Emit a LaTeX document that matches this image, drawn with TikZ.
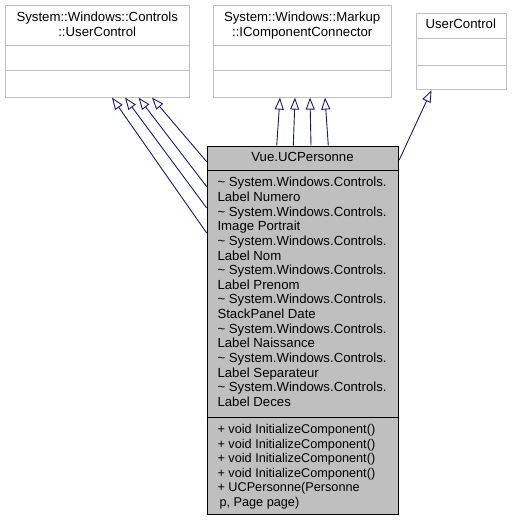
\documentclass[tikz,border=0pt]{standalone}
\usepackage{fontspec}
\setmainfont{Liberation Sans}
\usetikzlibrary{arrows.meta,calc}
\definecolor{edgeblue}{RGB}{25,25,112}
\definecolor{boxgray}{RGB}{191,191,191}
\definecolor{fillgray}{RGB}{191,191,191}
\begin{document}
\begin{tikzpicture}[x=1pt,y=-1pt,
  inh/.style={draw=edgeblue, line width=0.9pt, -{Triangle[open,length=12pt,width=9pt]}},
  txt/.style={inner sep=0pt, font=\fontsize{13.2}{14.6}\selectfont},
  mtxt/.style={inner sep=0pt, font=\fontsize{12.7}{14.6}\selectfont},
  extbox/.style={draw=boxgray, fill=white, line width=0.9pt, inner sep=0pt, anchor=north west},
  mainbox/.style={draw=black, fill=fillgray, line width=0.9pt, inner sep=0pt, anchor=north west}]
\useasboundingbox (0,0) rectangle (512,521);

% parent box 1
\node[extbox, minimum width=184.3pt, minimum height=91.4pt] (uc) at (5,5.3) {};
\draw[boxgray, line width=0.9pt] (5,45.7) -- (189.3,45.7) (5,70.7) -- (189.3,70.7);
\node[txt, anchor=base] (uct1) at (97.2,22) {System::Windows::Controls};
\node[txt, anchor=base] (uct2) at (97.2,37) {::UserControl};

% parent box 2
\node[extbox, minimum width=177.7pt, minimum height=91.4pt] (icc) at (213.3,5.3) {};
\draw[boxgray, line width=0.9pt] (213.3,45.7) -- (391,45.7) (213.3,70.7) -- (391,70.7);
\node[txt, anchor=base] (icct1) at (302.2,22) {System::Windows::Markup};
\node[txt, anchor=base] (icct2) at (302.2,37) {::IComponentConnector};

% parent box 3
\node[extbox, minimum width=90.3pt, minimum height=76pt] (ucs) at (415.7,13.3) {};
\draw[boxgray, line width=0.9pt] (415.7,38.3) -- (506,38.3) (415.7,65) -- (506,65);
\node[txt, anchor=base] (ucst) at (460.8,29) {UserControl};

% main class
\node[mainbox, minimum width=191.6pt, minimum height=368.6pt] (main) at (206.7,145.7) {};
\draw[black, line width=0.9pt] (206.7,170.7) -- (398.3,170.7) (206.7,417.3) -- (398.3,417.3);
\node[txt, anchor=base] (title) at (302.5,162) {Vue.UCPersonne};

\foreach \t [count=\i] in {%
  {\textasciitilde{} System.Windows.Controls.}, {Label Numero},
  {\textasciitilde{} System.Windows.Controls.}, {Image Portrait},
  {\textasciitilde{} System.Windows.Controls.}, {Label Nom},
  {\textasciitilde{} System.Windows.Controls.}, {Label Prenom},
  {\textasciitilde{} System.Windows.Controls.}, {StackPanel Date},
  {\textasciitilde{} System.Windows.Controls.}, {Label Naissance},
  {\textasciitilde{} System.Windows.Controls.}, {Label Separateur},
  {\textasciitilde{} System.Windows.Controls.}, {Label Deces}}
  \node[txt, anchor=base west] (attr\i) at (217.3,{187+14.62*(\i-1)}) {\t};

\foreach \t [count=\i] in {%
  {+ void InitializeComponent()}, {+ void InitializeComponent()},
  {+ void InitializeComponent()}, {+ void InitializeComponent()},
  {+ UCPersonne(Personne}, {\hspace{2pt}p, Page page)}}
  \node[mtxt, anchor=base west] (meth\i) at (217.3,{433.5+14.62*(\i-1)}) {\t};

% inheritance arrows to box 1
\draw[inh] ($(main.north west)+(0,87.3)$) -- ($(uc.south west)+(107,0)$);
\draw[inh] ($(main.north west)+(0,62.3)$) -- ($(uc.south west)+(120,0)$);
\draw[inh] ($(main.north west)+(0,41)$) -- ($(uc.south west)+(133.5,0)$);
\draw[inh] ($(main.north west)+(0,16)$) -- ($(uc.south west)+(147,0)$);

% inheritance arrows to box 2
\draw[inh] ($(main.north west)+(70,0)$) -- ($(icc.south west)+(66.7,0)$);
\draw[inh] ($(main.north west)+(86.6,0)$) -- ($(icc.south west)+(81.7,0)$);
\draw[inh] ($(main.north west)+(104.3,0)$) -- ($(icc.south west)+(96.7,0)$);
\draw[inh] ($(main.north west)+(121.6,0)$) -- ($(icc.south west)+(111.7,0)$);

% inheritance arrow to box 3
\draw[inh] ($(main.north east)+(0,14.3)$) -- ($(ucs.south west)+(15.8,0)$);
\end{tikzpicture}
\end{document}
